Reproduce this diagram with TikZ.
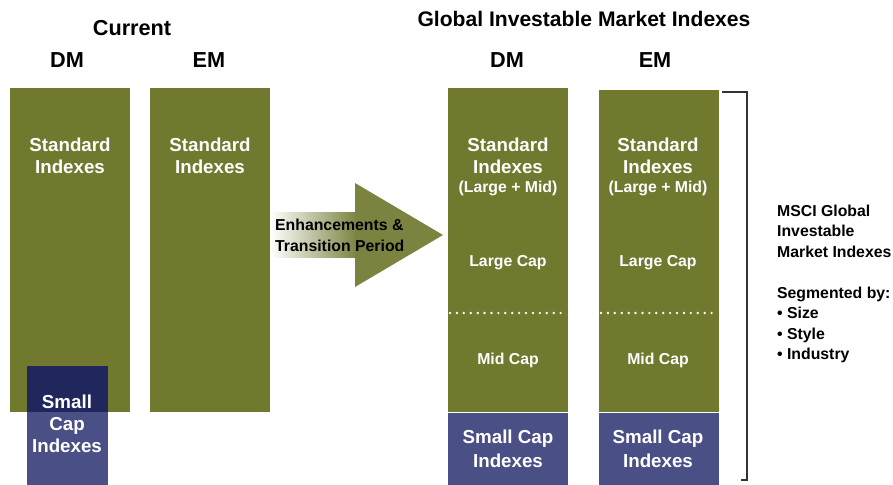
\documentclass[tikz,border=0pt]{standalone}
\usepackage{fontspec}
\setmainfont{Liberation Sans}
\usetikzlibrary{positioning}
\definecolor{barolive}{RGB}{112,121,46}
\definecolor{arrowolive}{RGB}{124,131,64}
\definecolor{capblue}{RGB}{74,80,134}
\definecolor{capnavy}{RGB}{33,39,92}

\begin{document}
\begin{tikzpicture}[x=0.03cm, y=-0.03cm, every node/.style={font=\bfseries}]
  \tikzset{
    bar/.style={fill=barolive, inner sep=0, minimum width=3.6cm, anchor=north west},
    capbox/.style={fill=capblue, inner sep=0},
    head/.style={font=\fontsize{18.5}{22}\selectfont\bfseries},
    big/.style={text=white, align=center, font=\fontsize{16}{19}\selectfont\bfseries},
    small/.style={text=white, align=center, font=\fontsize{13.5}{17}\selectfont\bfseries},
    side/.style={align=left, anchor=west, font=\fontsize{13.5}{17.4}\selectfont\bfseries},
    dotline/.style={white!92!yellow, line width=2.3pt, line cap=round, dash pattern=on 0pt off 5.9pt},
    bracketline/.style={black!80, line width=0.9pt}
  }
  \useasboundingbox (0,0) rectangle (893,485);

  % current indexes
  \node[bar, minimum height=9.72cm] (curdm) at (10,88) {};
  \node[bar, minimum height=9.72cm] (curem) at (150,88) {};
  \node[capbox, anchor=north west, minimum width=2.43cm, minimum height=3.57cm] (cursmall) at (27,366) {};
  \fill[capnavy] (cursmall.north west) rectangle (cursmall.east |- curdm.south);
  \node[head] (current) at (132,28) {Current};
  \node[head] (curdmlab) at (67,60) {DM};
  \node[head] (curemlab) at (209,60) {EM};
  \node[big] (curdmstd) at (70,156) {Standard\\Indexes};
  \node[big] (curemstd) at (210,156) {Standard\\Indexes};
  \node[big] (cursmalltxt) at (67,424) {Small\\Cap\\Indexes};

  % transition arrow
  \shade[left color=white, right color=arrowolive] (curem.east |- 0,213) rectangle (357,258);
  \fill[arrowolive] (355,183) -- (443,235) -- (355,287) -- cycle;
  \node[side, font=\fontsize{13.5}{17.8}\selectfont\bfseries] (trans) at (271,235) {Enhancements \&\\Transition Period};

  % global investable market indexes
  \node[head, font=\fontsize{18}{22}\selectfont\bfseries] (gimi) at (584,19) {Global Investable Market Indexes};
  \node[bar, minimum height=9.72cm] (gimdm) at (448,88) {};
  \node[bar, minimum height=9.66cm] (gimem) at (599,90) {};
  \node[capbox, minimum width=3.6cm, minimum height=2.19cm, below=0pt of gimdm] (gimdmsmall) {};
  \node[capbox, minimum width=3.6cm, minimum height=2.19cm, below=0pt of gimem] (gimemsmall) {};
  \draw[dotline] (450,313) -- (567,313);
  \draw[dotline] (601,313) -- (718,313);
  \node[head] (gimdmlab) at (507,60) {DM};
  \node[head] (gimemlab) at (655,60) {EM};
  \foreach \cx/\nm in {508/dm, 658/em} {
    \node[big] (std\nm) at (\cx,156) {Standard\\Indexes};
    \node[small] (lm\nm) at (\cx,188) {(Large + Mid)};
    \node[small] (large\nm) at (\cx,263) {Large Cap};
    \node[small] (mid\nm) at (\cx,360) {Mid Cap};
    \node[big, font=\fontsize{16}{20}\selectfont\bfseries] (sc\nm) at (\cx,449) {Small Cap\\Indexes};
  }

  % bracket and side notes
  \draw[bracketline] (722,92) -| (747,480) -- (741,480);
  \node[side] (msci) at (773,231) {MSCI Global\\Investable\\Market Indexes};
  \node[side] (segm) at (773,325) {Segmented by:\\• Size\\• Style\\• Industry};
\end{tikzpicture}
\end{document}
